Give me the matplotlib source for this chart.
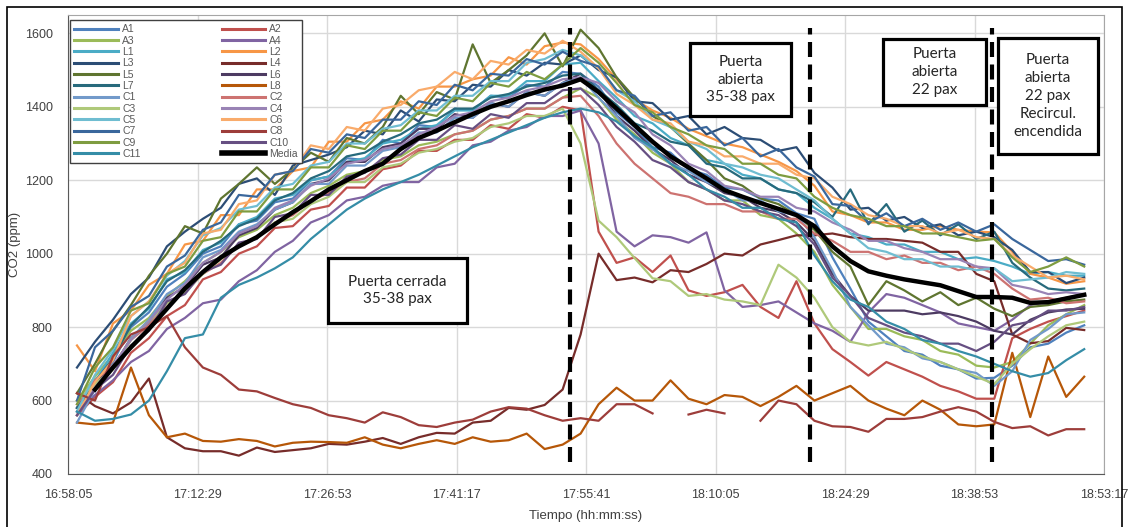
import matplotlib
matplotlib.use("Agg")
import matplotlib.pyplot as plt
import numpy as np
from matplotlib.patches import Rectangle

nan = np.nan

# minutos desde 16:58:05 (una lectura cada 2 min)
minutos = [1, 3, 5, 7, 9, 11, 13, 15, 17, 19,
           21, 23, 25, 27, 29, 31, 33, 35, 37, 39,
           41, 43, 45, 47, 49, 51, 53, 55, 57, 59,
           61, 63, 65, 67, 69, 71, 73, 75, 77, 79,
           81, 83, 85, 87, 89, 91, 93, 95, 97, 99,
           101, 103, 105, 107, 109, 111, 113]

A1 = [580, 655, 705, 800, 840, 910, 945, 1000, 1020, 1080,
      1090, 1140, 1150, 1200, 1210, 1260, 1255, 1310, 1300, 1350,
      1345, 1395, 1390, 1430, 1425, 1460, 1455, 1495, 1490, 1455,
      1385, 1345, 1290, 1275, 1230, 1215, 1180, 1175, 1150, 1145,
      1110, 1095, 990, 905, 815, 775, 735, 725, 695, 685,
      660, 662, 695, 745, 755, 785, 805]
A2 = [560, 610, 650, 730, 770, 830, 860, 930, 950, 1000,
      1020, 1070, 1075, 1120, 1130, 1180, 1180, 1230, 1240, 1280,
      1280, 1310, 1310, 1350, 1340, 1380, 1370, 1400, 1390, 1060,
      975, 990, 950, 995, 900, 885, 895, 915, 855, 825,
      925, 810, 740, 705, 668, 705, 685, 665, 640, 625,
      605, 605, 770, 795, 815, 830, 845]
A3 = [600, 665, 725, 790, 825, 885, 925, 975, 1005, 1045,
      1065, 1105, 1125, 1165, 1185, 1215, 1225, 1255, 1265, 1295,
      1305, 1325, 1335, 1365, 1375, 1395, 1395, 1425, 1450, 1425,
      1365, 1325, 1275, 1245, 1195, 1175, 1145, 1145, 1105, 1095,
      1055, 1005, 915, 855, 795, 795, 775, 765, 735, 725,
      695, 690, 705, 755, 805, 835, 860]
A4 = [570, 615, 655, 705, 735, 795, 825, 865, 875, 925,
      955, 1005, 1035, 1085, 1105, 1145, 1155, 1185, 1195, 1195,
      1235, 1245, 1295, 1305, 1335, 1345, 1375, 1375, 1390, 1300,
      1060, 1020, 1050, 1045, 1030, 1058, 900, 855, 860, 870,
      840, 810, 790, 760, 840, 890, 880, 860, 840, 810,
      800, 790, 820, 860, 870, 880, 890]
L1 = [560, 650, 730, 810, 850, 930, 950, 1010, 1030, 1080,
      1100, 1150, 1160, 1200, 1210, 1250, 1260, 1300, 1310, 1340,
      1350, 1390, 1390, 1430, 1430, 1470, 1470, 1515, 1520, 1470,
      1425, 1375, 1355, 1315, 1295, 1255, 1245, 1215, 1205, 1175,
      1165, 1125, 1095, 1055, 1045, 1025, 1025, 1005, 1005, 985,
      990, 980, 965, 945, 950, 940, 940]
L2 = [750, 680, 810, 845, 915, 945, 1025, 1035, 1105, 1105,
      1175, 1175, 1225, 1235, 1305, 1305, 1355, 1365, 1415, 1395,
      1455, 1455, 1475, 1485, 1535, 1515, 1565, 1575, 1570, 1530,
      1475, 1420, 1390, 1370, 1340, 1320, 1300, 1290, 1270, 1250,
      1225, 1185, 1115, 1105, 1085, 1085, 1065, 1065, 1075, 1065,
      1060, 1058, 1005, 945, 935, 918, 925]
L3 = [690, 760, 820, 890, 935, 1020, 1060, 1095, 1125, 1190,
      1205, 1160, 1240, 1255, 1270, 1290, 1335, 1325, 1390, 1360,
      1420, 1415, 1460, 1455, 1500, 1485, 1520, 1515, 1540, 1500,
      1480, 1415, 1410, 1365, 1375, 1325, 1345, 1315, 1310, 1280,
      1290, 1220, 1180, 1120, 1125, 1090, 1100, 1070, 1080, 1050,
      1060, 1045, 1010, 950, 950, 920, 935]
L4 = [620, 585, 565, 595, 660, 500, 470, 462, 462, 450,
      472, 460, 465, 470, 482, 480, 488, 498, 482, 500,
      512, 510, 540, 545, 580, 575, 588, 630, 780, 1000,
      928, 935, 922, 955, 950, 972, 1000, 995, 1025, 1037,
      1050, 1050, 1055, 1045, 1040, 1040, 1035, 1030, 1005, 1005,
      945, 925, 780, 756, 762, 798, 792]
L5 = [620, 700, 790, 860, 940, 1000, 1075, 1055, 1150, 1190,
      1235, 1190, 1230, 1275, 1250, 1315, 1300, 1345, 1430, 1380,
      1440, 1420, 1570, 1465, 1500, 1540, 1600, 1510, 1610, 1560,
      1480, 1425, 1375, 1345, 1300, 1255, 1205, 1185, 1150, 1135,
      1105, 1065, 1005, 965, 860, 925, 900, 870, 895, 860,
      880, 850, 830, 855, 860, 870, 875]
L6 = [580, 650, 690, 770, 810, 880, 910, 970, 990, 1050,
      1070, 1120, 1140, 1190, 1200, 1250, 1250, 1290, 1300, 1340,
      1340, 1380, 1370, 1410, 1400, 1440, 1430, 1465, 1490, 1445,
      1375, 1335, 1285, 1255, 1215, 1195, 1165, 1155, 1125, 1115,
      1085, 1035, 945, 885, 845, 845, 845, 835, 840, 830,
      815, 790, 780, 820, 840, 848, 850]
L7 = [580, 650, 715, 805, 855, 925, 955, 1005, 1035, 1075,
      1095, 1145, 1165, 1205, 1225, 1265, 1275, 1305, 1325, 1355,
      1365, 1395, 1395, 1425, 1435, 1455, 1465, 1485, 1490, 1445,
      1405, 1355, 1335, 1305, 1295, 1245, 1235, 1205, 1205, 1175,
      1165, 1140, 1100, 1175, 1080, 1135, 1060, 1090, 1050, 1080,
      1040, 1060, 975, 935, 905, 900, 905]
L8 = [540, 535, 540, 690, 560, 500, 510, 490, 488, 495,
      490, 475, 485, 488, 487, 485, 500, 480, 470, 482,
      492, 482, 500, 488, 492, 510, 468, 480, 510, 590,
      635, 600, 600, 655, 605, 590, 615, 610, 585, 610,
      640, 600, 620, 640, 600, 578, 560, 600, 575, 535,
      530, 535, 730, 555, 720, 610, 665]
C1 = [540, 630, 690, 770, 820, 890, 920, 990, 1010, 1060,
      1080, 1120, 1140, 1190, 1190, 1240, 1240, 1280, 1290, 1330,
      1330, 1370, 1370, 1410, 1400, 1440, 1430, 1465, 1480, 1425,
      1375, 1315, 1285, 1245, 1225, 1195, 1175, 1145, 1145, 1115,
      1105, 1045, 955, 855, 805, 755, 745, 715, 705, 685,
      675, 640, 680, 765, 795, 835, 840]
C2 = [590, 655, 695, 765, 805, 865, 895, 945, 975, 1025,
      1045, 1085, 1105, 1145, 1165, 1195, 1205, 1245, 1255, 1285,
      1295, 1325, 1335, 1365, 1375, 1395, 1395, 1425, 1430, 1375,
      1300, 1245, 1205, 1165, 1155, 1135, 1135, 1115, 1115, 1095,
      1095, 1055, 1035, 1005, 1005, 985, 995, 975, 975, 955,
      965, 945, 905, 875, 880, 865, 870]
C3 = [600, 645, 685, 765, 815, 865, 895, 945, 985, 1025,
      1045, 1085, 1095, 1135, 1155, 1195, 1195, 1235, 1245, 1275,
      1285, 1305, 1315, 1345, 1355, 1375, 1375, 1395, 1300, 1090,
      1045, 988, 933, 925, 885, 890, 875, 870, 860, 970,
      935, 880, 800, 760, 750, 760, 740, 720, 705, 685,
      665, 645, 700, 740, 775, 805, 815]
C4 = [560, 635, 695, 765, 815, 875, 915, 975, 1005, 1055,
      1075, 1125, 1145, 1185, 1205, 1245, 1255, 1285, 1295, 1325,
      1345, 1375, 1385, 1415, 1425, 1445, 1455, 1475, 1480, 1465,
      1415, 1385, 1325, 1295, 1245, 1225, 1185, 1175, 1155, 1155,
      1125, 1115, 1085, 1065, 1035, 1035, 1015, 1005, 985, 985,
      965, 960, 915, 905, 890, 895, 890]
C5 = [570, 670, 740, 830, 870, 940, 980, 1050, 1070, 1120,
      1130, 1180, 1190, 1240, 1250, 1300, 1300, 1340, 1350, 1390,
      1390, 1430, 1430, 1470, 1470, 1520, 1530, 1555, 1540, 1505,
      1445, 1415, 1365, 1345, 1305, 1285, 1245, 1235, 1215, 1205,
      1175, 1145, 1095, 1055, 1015, 1005, 985, 985, 965, 965,
      955, 960, 925, 930, 935, 950, 945]
C6 = [560, 650, 710, 830, 870, 945, 975, 1055, 1065, 1135,
      1145, 1215, 1225, 1295, 1285, 1345, 1335, 1395, 1405, 1445,
      1455, 1495, 1475, 1525, 1515, 1555, 1545, 1580, 1550, 1505,
      1435, 1405, 1365, 1355, 1305, 1295, 1265, 1265, 1245, 1245,
      1215, 1205, 1155, 1135, 1105, 1095, 1075, 1075, 1055, 1065,
      1045, 1040, 995, 965, 935, 940, 930]
C7 = [600, 745, 790, 855, 885, 965, 995, 1065, 1085, 1160,
      1155, 1215, 1225, 1285, 1275, 1325, 1315, 1365, 1365, 1415,
      1405, 1460, 1445, 1490, 1485, 1530, 1515, 1550, 1525, 1510,
      1445, 1430, 1375, 1385, 1335, 1345, 1295, 1315, 1265, 1285,
      1235, 1210, 1135, 1130, 1085, 1110, 1075, 1095, 1065, 1085,
      1060, 1080, 1040, 1010, 980, 985, 970]
C8 = [620, 600, 720, 780, 800, 830, 745, 690, 670, 630,
      625, 607, 590, 580, 560, 552, 540, 568, 555, 533,
      528, 540, 548, 570, 582, 578, 560, 545, 552, 545,
      590, 590, 565, nan, 562, 575, 565, nan, 545, 600,
      590, 545, 530, 528, 515, 550, 550, 555, 570, 582,
      570, 542, 525, 530, 505, 522, 522]
C9 = [590, 690, 745, 845, 865, 945, 965, 1035, 1045, 1115,
      1115, 1175, 1175, 1235, 1235, 1295, 1285, 1335, 1335, 1385,
      1375, 1425, 1415, 1465, 1455, 1495, 1475, 1515, 1560, 1520,
      1465, 1405, 1385, 1345, 1325, 1295, 1285, 1245, 1245, 1215,
      1205, 1155, 1125, 1105, 1095, 1075, 1075, 1055, 1055, 1045,
      1035, 1040, 990, 950, 965, 990, 965]
C10 = [560, 630, 670, 750, 790, 870, 890, 950, 970, 1030,
       1040, 1100, 1110, 1160, 1160, 1210, 1220, 1260, 1270, 1310,
       1310, 1350, 1340, 1380, 1370, 1410, 1410, 1445, 1450, 1405,
       1345, 1305, 1255, 1235, 1195, 1175, 1145, 1135, 1115, 1105,
       1075, 1025, 935, 885, 825, 805, 785, 775, 755, 755,
       735, 760, 805, 815, 845, 845, 855]
C11 = [570, 545, 550, 562, 600, 680, 770, 780, 880, 915,
       935, 960, 990, 1040, 1080, 1120, 1150, 1175, 1195, 1215,
       1240, 1265, 1290, 1310, 1330, 1350, 1370, 1385, 1395, 1385,
       1360, 1320, 1290, 1245, 1215, 1175, 1155, 1125, 1125, 1095,
       1085, 995, 925, 875, 855, 815, 795, 765, 755, 735,
       720, 700, 680, 665, 675, 710, 740]
media = [nan, 630, 690, 745, 795, 850, 905, 950, 990, 1020,
         1045, 1080, 1113, 1143, 1175, 1200, 1225, 1245, 1285, 1315,
         1335, 1358, 1380, 1400, 1415, 1432, 1447, 1458, 1475, 1440,
         1395, 1350, 1305, 1265, 1235, 1205, 1173, 1155, 1138, 1122,
         1105, 1075, 1020, 980, 952, 940, 930, 922, 914, 898,
         882, 882, 880, 866, 868, 878, 888]

nombres = ["A1", "A2", "A3", "A4", "L1", "L2", "L3", "L4", "L5", "L6", "L7", "L8",
           "C1", "C2", "C3", "C4", "C5", "C6", "C7", "C8", "C9", "C10", "C11"]
series = [A1, A2, A3, A4, L1, L2, L3, L4, L5, L6, L7, L8,
          C1, C2, C3, C4, C5, C6, C7, C8, C9, C10, C11]
colores = ["#4F81BD", "#C0504D", "#9BBB59", "#8064A2", "#4BACC6", "#F79646",
           "#2C4D75", "#772C2A", "#5F7530", "#4D3B62", "#276A7C", "#B65708",
           "#729ACA", "#CD7371", "#AFC97A", "#9983B5", "#6FBDD1", "#F9AB6B",
           "#3A679C", "#9D3D3A", "#7E9C40", "#664F82", "#358DA7"]

horas = ["16:58:05", "17:12:29", "17:26:53", "17:41:17", "17:55:41",
         "18:10:05", "18:24:29", "18:38:53", "18:53:17"]
eventos = [55.8, 82.5, 102.7]  # cambios de escenario (minutos)

cajas = [
    ("Puerta cerrada\n35-38 pax", (328, 258, 467, 323)),
    ("Puerta\nabierta\n35-38 pax", (690, 43, 791, 116)),
    ("Puerta\nabierta\n22 pax", (883, 39, 986, 105)),
    ("Puerta\nabierta\n22 pax\nRecircul.\nencendida", (998, 38, 1098, 154)),
]

fuente = ["Liberation Sans Narrow", "Liberation Sans"]

W, H = 1130, 527
fig = plt.figure(figsize=(W / 100, H / 100), dpi=100)
ax = fig.add_axes([68 / W, 1 - 474 / H, (1104 - 68) / W, (474 - 15) / H])

lineas = []
for nombre, valores, color in zip(nombres, series, colores):
    l, = ax.plot(minutos, valores, color=color, lw=1.6, label=nombre)
    lineas.append(l)
l, = ax.plot(minutos, media, color="black", lw=3.2, label="Media")
lineas.append(l)

for t in eventos:
    ax.axvline(t, ymin=0.026, ymax=0.972, color="black", lw=3,
               linestyle=(0, (3.6, 1.8)), zorder=5)

ax.set_xlim(0, 115.2)
ax.set_ylim(400, 1650)
ax.set_xticks([14.4 * i for i in range(len(horas))])
ax.set_xticklabels(horas)
ax.set_yticks(range(400, 1601, 200))
ax.grid(color="#D9D9D9", lw=1)
ax.set_axisbelow(True)
ax.tick_params(length=0, labelsize=9, colors="#404040")
ax.tick_params(axis="y", pad=11)
ax.tick_params(axis="x", pad=11)
for lab in ax.get_xticklabels() + ax.get_yticklabels():
    lab.set_family(fuente)
for s in ["top", "right"]:
    ax.spines[s].set_color("#A6A6A6")
for s in ["left", "bottom"]:
    ax.spines[s].set_color("#595959")
ax.set_xlabel("Tiempo (hh:mm:ss)", fontsize=9.5, color="#404040", family=fuente)
ax.set_ylabel("CO2 (ppm)", fontsize=9.5, color="#404040", family=fuente)
ax.xaxis.set_label_coords(0.5, -0.078)
ax.yaxis.set_label_coords(-0.045, 0.5)

orden = lineas[0::2] + lineas[1::2]
leg = ax.legend(orden, [h.get_label() for h in orden], ncol=2, loc="upper left",
                bbox_to_anchor=(0.002, 0.5, 0.224, 0.489), mode="expand",
                borderaxespad=0, handlelength=4.2,
                handletextpad=0.4, labelspacing=0.13, columnspacing=1.0,
                fancybox=False, framealpha=1, edgecolor="#404040",
                prop={"family": fuente, "size": 7.5})
leg.get_frame().set_linewidth(1)
for txt in leg.get_texts():
    txt.set_color("#595959")
for h in leg.legend_handles:
    h.set_linewidth(2.2)
leg.legend_handles[-1].set_linewidth(4)

for texto, (x0, y0, x1, y1) in cajas:
    fig.add_artist(Rectangle((x0 / W, 1 - y1 / H), (x1 - x0) / W, (y1 - y0) / H,
                             transform=fig.transFigure, facecolor="white",
                             edgecolor="black", lw=2.3, zorder=10))
    fig.text((x0 + x1) / 2 / W, 1 - (y0 + y1) / 2 / H, texto, ha="center",
             va="center", fontsize=11, linespacing=1.35, color="#262626",
             family=["Lato", "DejaVu Sans"], zorder=11)

# marco exterior
fig.add_artist(Rectangle((7 / W, -0.1), (1122 - 7) / W, 1.1 - 7 / H,
                         transform=fig.transFigure, fill=False,
                         edgecolor="black", lw=1.2))

fig.savefig("out.png", dpi=100)
